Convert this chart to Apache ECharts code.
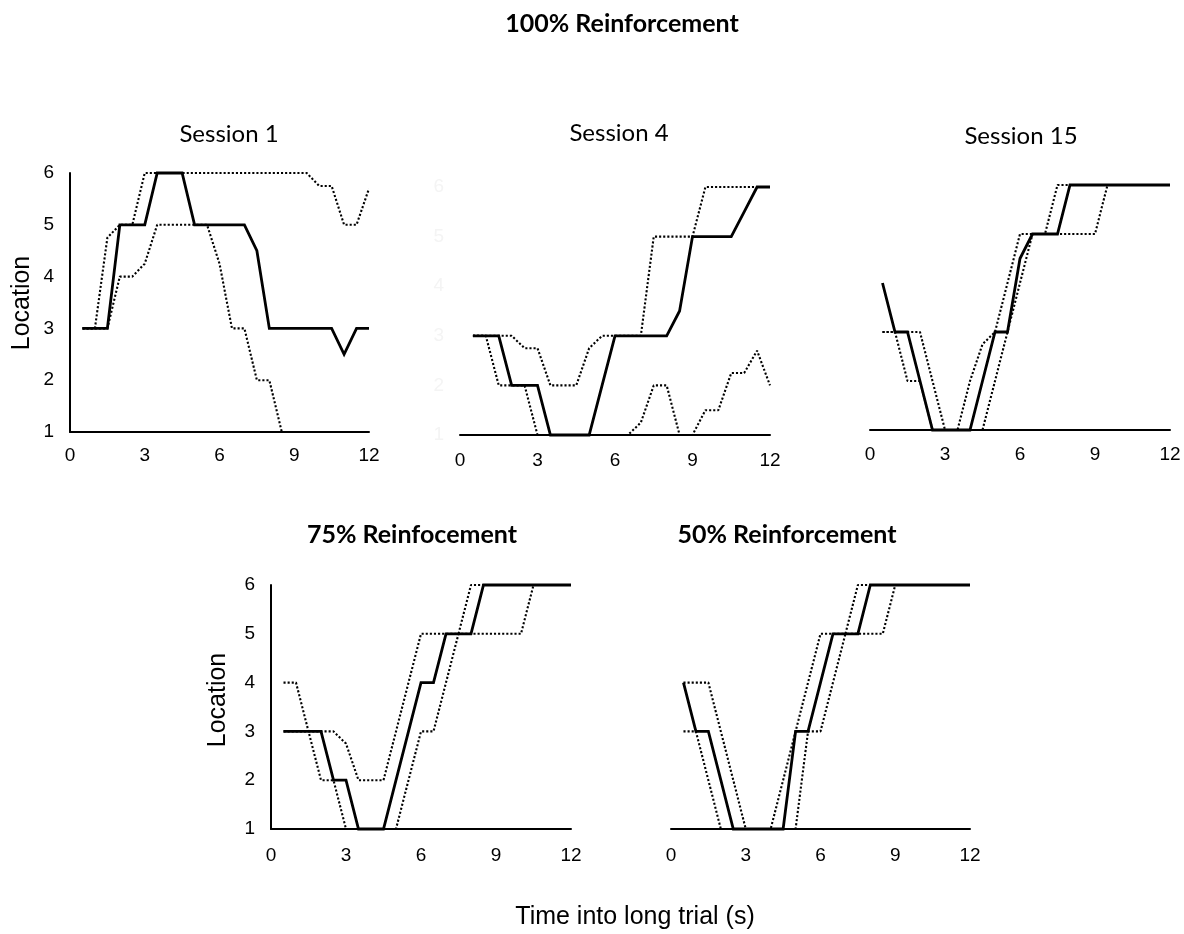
<!DOCTYPE html>
<html>
<head>
<meta charset="utf-8">
<title>Location over time into long trial</title>
<script src="https://cdn.jsdelivr.net/npm/echarts@6/dist/echarts.min.js"></script>
<style>
  html, body { margin: 0; padding: 0; background: #ffffff; }
  #chart { width: 1184px; height: 934px; }
</style>
</head>
<body>
<div id="chart"></div>
<script>
// Sample times (s) into the long trial
const times = [0.5, 1, 1.5, 2, 2.5, 3, 3.5, 4, 4.5, 5, 5.5, 6,
               6.5, 7, 7.5, 8, 8.5, 9, 9.5, 10, 10.5, 11, 11.5, 12];

// Tick labels
const xTicks = [0, 3, 6, 9, 12];
const yTicks = [1, 2, 3, 4, 5, 6];

// 100% reinforcement, Session 1
const s1Mean  = [3, 3, 3, 5, 5, 5, 6, 6, 6, 5, 5, 5, 5, 5, 4.5, 3, 3, 3, 3, 3, 3, 2.5, 3, 3];
const s1Upper = [3, 3, 4.75, 5, 5, 6, 6, 6, 6, 6, 6, 6, 6, 6, 6, 6, 6, 6, 6, 5.75, 5.75, 5, 5, 5.7];
const s1Lower = [3, 3, 3, 4, 4, 4.25, 5, 5, 5, 5, 5, 4.25, 3, 3, 2, 2, 1, 1, 1, 1, 1, 1, 1, 1];

// 100% reinforcement, Session 4
const s4Mean  = [3, 3, 3, 2, 2, 2, 1, 1, 1, 1, 2, 3, 3, 3, 3, 3, 3.5, 5, 5, 5, 5, 5.5, 6, 6];
const s4Upper = [3, 3, 3, 3, 2.75, 2.75, 2, 2, 2, 2.75, 3, 3, 3, 3, 5, 5, 5, 5, 6, 6, 6, 6, 6, 6];
const s4Lower = [3, 3, 2, 2, 2, 1, 1, 1, 1, 1, 1, 1, 1, 1.25, 2, 2, 1, 1, 1.5, 1.5, 2.25, 2.25, 2.7, 2];

// 100% reinforcement, Session 15
const s15Mean  = [4, 3, 3, 2, 1, 1, 1, 1, 2, 3, 3, 4.5, 5, 5, 5, 6, 6, 6, 6, 6, 6, 6, 6, 6];
const s15Early = [3, 3, 2, 2, 1, 1, 1, 2, 2.75, 3, 4, 5, 5, 5, 6, 6, 6, 6, 6, 6, 6, 6, 6, 6];
const s15Late  = [3, 3, 3, 3, 2, 1, 1, 1, 1, 2, 3, 4, 5, 5, 5, 5, 5, 5, 6, 6, 6, 6, 6, 6];

// 75% reinforcement
const r75Mean  = [3, 3, 3, 3, 2, 2, 1, 1, 1, 2, 3, 4, 4, 5, 5, 5, 6, 6, 6, 6, 6, 6, 6, 6];
const r75Late  = [4, 4, 3, 2, 2, 1, 1, 1, 1, 1, 2, 3, 3, 4, 5, 5, 5, 5, 5, 5, 6, 6, 6, 6];
const r75Early = [3, 3, 3, 3, 3, 2.75, 2, 2, 2, 3, 4, 5, 5, 5, 5, 6, 6, 6, 6, 6, 6, 6, 6, 6];

// 50% reinforcement
const r50Mean  = [4, 3, 3, 2, 1, 1, 1, 1, 1, 3, 3, 4, 5, 5, 5, 6, 6, 6, 6, 6, 6, 6, 6, 6];
const r50Early = [3, 3, 2, 1, 1, 1, 1, 1, 2, 3, 4, 5, 5, 5, 6, 6, 6, 6, 6, 6, 6, 6, 6, 6];
const r50Late  = [4, 4, 4, 3, 2, 1, 1, 1, 1, 1, 3, 3, 4, 5, 5, 5, 5, 6, 6, 6, 6, 6, 6, 6];

const TICK_FONT = 'Liberation Sans, Arial, sans-serif';
const TITLE_FONT = 'Lato, Calibri, sans-serif';

// Panel frames (plot areas in pixels)
const panels = [
  { grid: { left: 70,  top: 173, width: 299, height: 259 }, yLine: true,  yLabel: '#000', xMargin: 14, lines: [s1Mean, s1Upper, s1Lower] },
  { grid: { left: 460, top: 187, width: 310, height: 248 }, yLine: false, yLabel: '#f4f4f4', xMargin: 16, lines: [s4Mean, s4Upper, s4Lower] },
  { grid: { left: 870, top: 185, width: 300, height: 245 }, yLine: false, yLabel: null, xMargin: 15, lines: [s15Mean, s15Early, s15Late] },
  { grid: { left: 271, top: 585, width: 300, height: 244 }, yLine: true,  yLabel: '#000', xMargin: 17, lines: [r75Mean, r75Late, r75Early] },
  { grid: { left: 671, top: 585, width: 299, height: 244 }, yLine: false, yLabel: null, xMargin: 17, lines: [r50Mean, r50Early, r50Late] }
];

function pairs(values) {
  return times.map((t, i) => [t, values[i]]);
}

const grids = [], xAxes = [], yAxes = [], series = [];
panels.forEach((p, k) => {
  grids.push(Object.assign({ containLabel: false }, p.grid));
  xAxes.push({
    type: 'value', gridIndex: k,
    min: xTicks[0], max: xTicks[xTicks.length - 1], interval: 3,
    axisLine: { show: true, onZero: false, lineStyle: { color: '#000', width: 2 } },
    axisTick: { show: false },
    splitLine: { show: false },
    axisLabel: { show: true, color: '#000', fontFamily: TICK_FONT, fontSize: 19, margin: p.xMargin }
  });
  yAxes.push({
    type: 'value', gridIndex: k,
    min: yTicks[0], max: yTicks[yTicks.length - 1], interval: 1,
    axisLine: { show: p.yLine, onZero: false, lineStyle: { color: '#000', width: 2 } },
    axisTick: { show: false },
    splitLine: { show: false },
    axisLabel: p.yLabel
      ? { show: true, color: p.yLabel, fontFamily: TICK_FONT, fontSize: 19, margin: 16 }
      : { show: false }
  });
  p.lines.forEach((vals, j) => {
    series.push({
      type: 'line', xAxisIndex: k, yAxisIndex: k,
      data: pairs(vals),
      symbol: 'none', showSymbol: false,
      silent: true, clip: false,
      z: j === 0 ? 5 : 3,
      lineStyle: j === 0
        ? { color: '#000', width: 2.8, type: 'solid', cap: 'butt', join: 'miter' }
        : { color: '#000', width: 2.1, type: [2.1, 2.0], cap: 'butt' }
    });
  });
});

function label(text, x, y, font, rotation) {
  return {
    type: 'text', x: x, y: y, rotation: rotation || 0, silent: true,
    style: { text: text, font: font, fill: '#000', textAlign: 'center', textVerticalAlign: 'middle' }
  };
}

const graphics = [
  label('100% Reinforcement', 622, 24, 'bold 25px ' + TITLE_FONT),
  label('Session 1', 229, 134, '24px ' + TITLE_FONT),
  label('Session 4', 619, 133, '24px ' + TITLE_FONT),
  label('Session 15', 1021, 136, '24px ' + TITLE_FONT),
  label('75% Reinfocement', 412, 535, 'bold 25px ' + TITLE_FONT),
  label('50% Reinforcement', 787, 535, 'bold 25px ' + TITLE_FONT),
  label('Location', 22, 303, '25px ' + TICK_FONT, Math.PI / 2),
  label('Location', 218, 700, '25px ' + TICK_FONT, Math.PI / 2),
  label('Time into long trial (s)', 635, 917, '25px ' + TICK_FONT)
];

const chart = echarts.init(document.getElementById('chart'), null, { renderer: 'canvas' });
chart.setOption({
  animation: false,
  backgroundColor: '#ffffff',
  grid: grids,
  xAxis: xAxes,
  yAxis: yAxes,
  series: series,
  graphic: graphics
});
</script>
</body>
</html>
